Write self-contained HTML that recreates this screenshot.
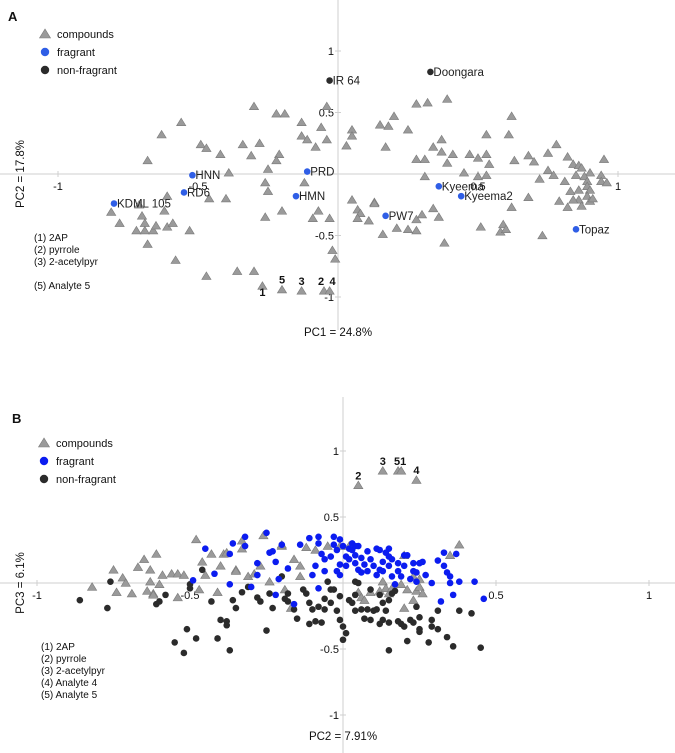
<!DOCTYPE html>
<html><head><meta charset="utf-8"><style>
html,body{margin:0;padding:0;background:#fff;}
svg{display:block;font-family:"Liberation Sans",Arial,sans-serif;}
</style></head><body>
<svg id="chart" width="675" height="753" viewBox="0 0 675 753" xmlns="http://www.w3.org/2000/svg">
<g id="panelA"></g>
<g id="panelB"></g>
</svg>
<script>
// ---------- Panel A data (PC1 vs PC2) ----------
const aCompounds = [[-0.30,0.55],[-0.22,0.49],[-0.19,0.49],[-0.04,0.55],[-0.13,0.42],[-0.06,0.38],[-0.56,0.42],[-0.63,0.32],[-0.49,0.24],[-0.47,0.21],[-0.34,0.24],[-0.28,0.25],[-0.21,0.16],[-0.22,0.11],[-0.31,0.15],[-0.42,0.16],[-0.68,0.11],[-0.13,0.31],[-0.11,0.28],[-0.08,0.22],[-0.04,0.28],[0.03,0.23],[0.05,0.36],[0.05,0.31],[0.15,0.40],[0.18,0.39],[0.20,0.47],[0.25,0.36],[0.28,0.57],[0.32,0.58],[0.39,0.61],[0.62,0.47],[0.53,0.32],[0.61,0.32],[0.37,0.28],[0.34,0.22],[0.37,0.18],[0.41,0.16],[0.47,0.16],[0.28,0.12],[0.31,0.12],[0.39,0.09],[0.50,0.13],[0.53,0.16],[0.54,0.08],[0.63,0.11],[0.68,0.15],[0.70,0.10],[0.75,0.17],[0.78,0.24],[0.82,0.14],[0.75,0.03],[0.77,-0.01],[0.84,0.08],[0.86,0.07],[0.87,0.05],[0.90,0.01],[0.94,-0.01],[0.95,0.12],[0.94,-0.06],[0.96,-0.07],[0.72,-0.04],[0.81,-0.06],[0.85,-0.01],[0.88,-0.02],[0.89,-0.06],[0.89,-0.10],[0.90,-0.13],[0.86,-0.13],[0.83,-0.14],[0.89,-0.18],[0.86,-0.21],[0.90,-0.22],[0.84,-0.21],[0.79,-0.22],[0.82,-0.27],[0.87,-0.26],[0.91,-0.20],[0.68,-0.19],[0.62,-0.27],[0.58,-0.47],[0.59,-0.41],[0.60,-0.45],[0.51,-0.43],[0.73,-0.50],[0.45,0.01],[0.50,-0.02],[0.53,-0.01],[0.31,-0.02],[0.17,0.22],[0.13,-0.23],[0.13,-0.24],[0.05,-0.21],[0.07,-0.29],[0.08,-0.32],[0.07,-0.36],[0.11,-0.38],[0.34,-0.28],[0.36,-0.35],[0.28,-0.37],[0.30,-0.33],[0.25,-0.45],[0.21,-0.44],[0.28,-0.46],[0.16,-0.49],[0.38,-0.56],[-0.39,0.01],[-0.25,0.04],[-0.26,-0.07],[-0.25,-0.14],[-0.12,-0.07],[-0.40,-0.20],[-0.46,-0.20],[-0.61,-0.18],[-0.62,-0.30],[-0.71,-0.25],[-0.70,-0.34],[-0.81,-0.31],[-0.78,-0.40],[-0.69,-0.40],[-0.72,-0.46],[-0.69,-0.46],[-0.66,-0.46],[-0.65,-0.42],[-0.61,-0.43],[-0.59,-0.40],[-0.53,-0.46],[-0.68,-0.57],[-0.58,-0.70],[-0.47,-0.83],[-0.36,-0.79],[-0.30,-0.79],[-0.02,-0.62],[-0.01,-0.69],[-0.07,-0.30],[-0.09,-0.36],[-0.03,-0.36],[-0.20,-0.30],[-0.26,-0.35]];
const aKeyCompounds = [[-0.27,-0.91],[-0.20,-0.94],[-0.13,-0.95],[-0.05,-0.95],[-0.03,-0.95]];
const aKeyLabels = ["1","5","3","2","4"];
const aFragrant = [[-0.11,0.02],[-0.52,-0.01],[-0.55,-0.15],[-0.80,-0.24],[-0.15,-0.18],[0.17,-0.34],[0.36,-0.10],[0.44,-0.18],[0.85,-0.45]];
const aFragrantNames = ["PRD","HNN","RD6","KDML 105","HMN","PW7","Kyeema","Kyeema2","Topaz"];
const aNonFragrant = [[-0.03,0.76],[0.33,0.83]];
const aNonFragrantNames = ["IR 64","Doongara"];
const aXTicks = [-1,-0.5,0.5,1];
const aYTicks = [1,0.5,-0.5,-1];

// ---------- Panel B data (PC2 vs PC3) ----------
const bCompounds = [[-0.82,-0.03],[-0.75,0.10],[-0.74,-0.07],[-0.72,0.04],[-0.71,0.00],[-0.69,-0.08],[-0.67,0.12],[-0.65,0.18],[-0.64,-0.06],[-0.63,0.01],[-0.63,0.10],[-0.62,-0.08],[-0.62,-0.09],[-0.61,0.22],[-0.60,-0.01],[-0.59,0.06],[-0.56,0.07],[-0.54,-0.11],[-0.54,0.07],[-0.52,0.06],[-0.48,0.33],[-0.47,-0.05],[-0.46,0.16],[-0.45,0.06],[-0.43,0.22],[-0.41,-0.07],[-0.40,0.13],[-0.39,0.22],[-0.38,0.23],[-0.35,0.10],[-0.35,0.09],[-0.33,0.32],[-0.33,0.26],[-0.31,0.05],[-0.29,0.07],[-0.27,0.13],[-0.26,0.36],[-0.24,0.01],[-0.20,0.28],[-0.20,0.29],[-0.19,-0.05],[-0.17,-0.19],[-0.16,0.18],[-0.14,0.13],[-0.14,0.05],[-0.12,0.27],[-0.09,0.25],[-0.05,0.28],[-0.01,0.28],[0.02,0.28],[0.05,-0.07],[0.06,-0.11],[0.07,-0.13],[0.09,-0.07],[0.12,-0.06],[0.13,0.01],[0.14,-0.04],[0.15,-0.08],[0.16,-0.04],[0.19,-0.01],[0.20,0.21],[0.20,-0.19],[0.21,-0.05],[0.23,-0.13],[0.24,-0.06],[0.25,-0.03],[0.26,-0.08],[0.35,0.21],[0.38,0.29],[0.23,0.05],[0.25,0.03]];
const bKeyCompounds = [[0.05,0.74],[0.13,0.85],[0.18,0.85],[0.19,0.85],[0.24,0.78]];
const bKeyLabels = ["2","3","5","1","4"];
const bFragrant = [[-0.49,0.02],[-0.45,0.26],[-0.42,0.07],[-0.37,-0.01],[-0.37,0.22],[-0.36,0.30],[-0.32,0.35],[-0.32,0.28],[-0.30,-0.03],[-0.28,0.15],[-0.28,0.06],[-0.25,0.38],[-0.24,0.23],[-0.23,0.24],[-0.22,0.16],[-0.21,0.03],[-0.22,-0.09],[-0.20,0.29],[-0.18,0.11],[-0.16,-0.16],[-0.14,0.29],[-0.11,0.34],[-0.10,0.06],[-0.09,0.13],[-0.08,-0.04],[-0.08,0.35],[-0.08,0.30],[-0.07,0.22],[-0.06,0.18],[-0.06,0.09],[-0.04,0.20],[-0.03,0.35],[-0.03,0.29],[-0.02,0.09],[-0.02,0.25],[-0.01,0.14],[-0.01,0.06],[0.00,0.28],[0.01,0.20],[0.01,0.13],[0.02,0.26],[0.02,0.18],[0.03,0.25],[0.03,0.30],[0.04,0.15],[0.04,0.21],[0.05,0.10],[0.05,0.28],[0.06,0.19],[0.06,0.08],[0.07,0.14],[0.08,0.24],[0.08,0.09],[0.09,0.18],[0.10,0.13],[0.11,0.26],[0.11,0.06],[0.12,0.25],[0.12,0.10],[0.13,0.16],[0.13,0.09],[0.14,0.23],[0.15,0.20],[0.15,0.13],[0.16,0.05],[0.16,0.18],[0.17,-0.01],[0.18,0.09],[0.18,0.15],[0.19,0.05],[0.20,0.21],[0.20,0.13],[0.21,0.21],[0.22,0.03],[0.23,0.15],[0.23,0.09],[0.24,0.01],[0.24,0.08],[0.25,0.15],[0.26,0.16],[0.27,0.06],[0.29,0.00],[0.31,0.17],[0.32,-0.14],[0.33,0.23],[0.33,0.13],[0.34,0.08],[0.35,0.00],[0.35,0.05],[0.36,-0.09],[0.37,0.22],[0.38,0.01],[0.43,0.01],[0.46,-0.12],[0.04,0.28],[-0.01,0.33],[0.15,0.26]];
const bNonFragrant = [[-0.86,-0.13],[-0.77,-0.19],[-0.76,0.01],[-0.61,-0.16],[-0.60,-0.14],[-0.58,-0.09],[-0.55,-0.45],[-0.52,-0.53],[-0.51,-0.35],[-0.48,-0.42],[-0.50,-0.01],[-0.50,-0.04],[-0.46,0.10],[-0.43,-0.14],[-0.40,-0.28],[-0.38,-0.29],[-0.38,-0.32],[-0.37,-0.51],[-0.41,-0.42],[-0.36,-0.13],[-0.35,-0.19],[-0.33,-0.07],[-0.31,-0.03],[-0.28,-0.11],[-0.27,-0.14],[-0.25,-0.36],[-0.24,-0.08],[-0.23,-0.19],[-0.20,0.05],[-0.19,-0.12],[-0.18,-0.08],[-0.18,-0.14],[-0.16,-0.20],[-0.15,-0.27],[-0.13,-0.05],[-0.12,-0.08],[-0.11,-0.31],[-0.11,-0.15],[-0.10,-0.20],[-0.09,-0.29],[-0.08,-0.18],[-0.07,-0.30],[-0.06,-0.20],[-0.06,-0.12],[-0.05,0.01],[-0.04,-0.05],[-0.04,-0.15],[-0.02,-0.21],[-0.01,-0.28],[0.00,-0.33],[0.01,-0.38],[0.00,-0.43],[0.02,-0.13],[0.03,-0.15],[0.04,-0.21],[0.04,0.01],[0.05,0.00],[0.06,-0.20],[0.07,-0.27],[0.08,-0.20],[0.09,-0.28],[0.10,-0.21],[0.11,-0.20],[0.12,-0.31],[0.13,-0.15],[0.13,-0.28],[0.14,-0.21],[0.15,-0.51],[0.15,-0.13],[0.15,-0.30],[0.16,-0.08],[0.17,-0.06],[0.18,-0.29],[0.19,-0.31],[0.20,-0.33],[0.21,-0.44],[0.22,-0.28],[0.23,-0.30],[0.24,-0.18],[0.25,-0.26],[0.25,-0.35],[0.25,-0.37],[0.28,-0.45],[0.29,-0.33],[0.29,-0.28],[0.31,-0.35],[0.31,-0.21],[0.34,-0.41],[0.36,-0.48],[0.38,-0.21],[0.42,-0.23],[0.45,-0.49],[-0.03,-0.05],[-0.01,-0.10],[0.04,-0.09],[0.09,-0.05],[0.12,-0.09]];
const bXTicks = [-1,-0.5,0.5,1];
const bYTicks = [1,0.5,-0.5,-1];

const NS = "http://www.w3.org/2000/svg";
function mk(parent, tag, attrs, text){
  const e = document.createElementNS(NS, tag);
  for (const k in attrs) e.setAttribute(k, attrs[k]);
  if (text !== undefined) e.textContent = text;
  parent.appendChild(e);
  return e;
}
function tri(g, cx, cy, s){
  return mk(g, "polygon", {points:`${cx},${cy-s} ${cx-s*1.1},${cy+s*0.8} ${cx+s*1.1},${cy+s*0.8}`, fill:"#9a9a9a", stroke:"#7a7a7a", "stroke-width":"0.6"});
}

function panel(g, cfg){
  const X = v => cfg.ox + v*cfg.ux;
  const Y = v => cfg.oy - v*cfg.uy;
  // axes
  const ax = mk(g,"line",{x1:0,y1:cfg.oy,x2:675,y2:cfg.oy,stroke:"#cfcfcf","stroke-width":"1"});
  
  
  const ay = mk(g,"line",{x1:cfg.ox,y1:cfg.vy1,x2:cfg.ox,y2:cfg.vy2,stroke:"#cfcfcf","stroke-width":"1"});
  
  
  cfg.xt.forEach(v=>{
    mk(g,"line",{x1:X(v),y1:cfg.oy-3,x2:X(v),y2:cfg.oy+3,stroke:"#cfcfcf"});
    const t = mk(g,"text",{x:X(v),y:cfg.oy+16,"font-size":"11","text-anchor":"middle",fill:"#111"}, String(v));
    
    
  });
  cfg.yt.forEach(v=>{
    mk(g,"line",{x1:cfg.ox-3,y1:Y(v),x2:cfg.ox+3,y2:Y(v),stroke:"#cfcfcf"});
    const t = mk(g,"text",{x:cfg.ox-4,y:Y(v)+4,"font-size":"11","text-anchor":"end",fill:"#111"}, String(v));
    
    
  });
  // compounds
  cfg.comp.forEach(p=>{
    const e = tri(g, X(p[0]), Y(p[1]), 4.2);
    
    
  });
  cfg.key.forEach((p,i)=>{
    const e = tri(g, X(p[0]), Y(p[1]), 4.2);
    
    
  });
  cfg.nonf.forEach((p,i)=>{
    const e = mk(g,"circle",{cx:X(p[0]),cy:Y(p[1]),r:cfg.r,fill:"#2b2b2b"});
    
    
    if (cfg.nonfN){
      const t = mk(g,"text",{x:X(p[0])+3,y:Y(p[1])+4,"font-size":"11.5",fill:"#222"}, cfg.nonfN[i]);
      
      
    }
  });
  cfg.frag.forEach((p,i)=>{
    const e = mk(g,"circle",{cx:X(p[0]),cy:Y(p[1]),r:cfg.r,fill:cfg.blue});
    
    
    if (cfg.fragN){
      const t = mk(g,"text",{x:X(p[0])+3,y:Y(p[1])+4,"font-size":"11.5",fill:"#222"}, cfg.fragN[i]);
      
      
    }
  });
  return {X,Y};
}

const gA = document.getElementById("panelA");
const A = panel(gA,{ox:338,oy:174,ux:280,uy:123,vy1:0,vy2:330,xt:aXTicks,yt:aYTicks,comp:aCompounds,key:aKeyCompounds,frag:aFragrant,fragN:aFragrantNames,nonf:aNonFragrant,nonfN:aNonFragrantNames,r:3.3,blue:"#2f5ee6"});
aKeyCompounds.forEach((p,i)=>{
  const below = aKeyLabels[i]==="1";
  const dx = aKeyLabels[i]==="2" ? -3 : (aKeyLabels[i]==="4" ? 3 : 0);
  const t = mk(gA,"text",{x:A.X(p[0])+dx,y:below?A.Y(p[1])+10:A.Y(p[1])-6,"font-size":"11","font-weight":"bold","text-anchor":"middle",fill:"#111"}, aKeyLabels[i]);
  
  
});

const gB = document.getElementById("panelB");
const B = panel(gB,{ox:343,oy:583,ux:306,uy:132,vy1:397,vy2:753,xt:bXTicks,yt:bYTicks,comp:bCompounds,key:bKeyCompounds,frag:bFragrant,nonf:bNonFragrant,r:3.3,blue:"#0b1cf0"});
bKeyCompounds.forEach((p,i)=>{
  const dx = bKeyLabels[i]==="5" ? -1 : (bKeyLabels[i]==="1" ? 2 : 0);
  const t = mk(gB,"text",{x:B.X(p[0])+dx,y:B.Y(p[1])-6,"font-size":"11","font-weight":"bold","text-anchor":"middle",fill:"#111"}, bKeyLabels[i]);
  
  
});

// static text: panel letters, axis titles, legends, notes
function staticText(g, x, y, s, attrs, name){
  const t = mk(g,"text",Object.assign({x:x,y:y,"font-size":"11",fill:"#111"},attrs||{}), s);
  
  
  return t;
}
staticText(gA,8,21,"A",{"font-size":"13","font-weight":"bold"},"panel-letter-a");
staticText(gB,12,423,"B",{"font-size":"13","font-weight":"bold"},"panel-letter-b");
staticText(gA,338,336,"PC1 = 24.8%",{"font-size":"11.5","text-anchor":"middle"},"x-axis-title");
staticText(gA,0,0,"PC2 = 17.8%",{"font-size":"11.5","text-anchor":"middle",transform:"translate(24,174) rotate(-90)"},"y-axis-title");
staticText(gB,343,740,"PC2 = 7.91%",{"font-size":"11.5","text-anchor":"middle"},"x-axis-title");
staticText(gB,0,0,"PC3 = 6.1%",{"font-size":"11.5","text-anchor":"middle",transform:"translate(24,583) rotate(-90)"},"y-axis-title");

function legend(g, x, y){
  const t0 = tri(g, x, y, 5);
  
  
  staticText(g,x+12,y+4,"compounds",{},"legend-compounds");
  const c1 = mk(g,"circle",{cx:x,cy:y+18,r:4.2,fill:g.id==="panelA"?"#2f5ee6":"#0b1cf0"});
  
  
  staticText(g,x+12,y+22,"fragrant",{},"legend-fragrant");
  const c2 = mk(g,"circle",{cx:x,cy:y+36,r:4.2,fill:"#2b2b2b"});
  
  
  staticText(g,x+12,y+40,"non-fragrant",{},"legend-non-fragrant");
}
legend(gA,45,34);
legend(gB,44,443);

const notesA = [["(1) 2AP",241],["(2)  pyrrole",253],["(3)  2-acetylpyr",265],["(5) Analyte 5",289]];
notesA.forEach(n=>staticText(gA,34,n[1],n[0],{"font-size":"10"},"compound-key-note"));
const notesB = [["(1) 2AP",650],["(2)  pyrrole",662],["(3)  2-acetylpyr",674],["(4) Analyte 4",686],["(5) Analyte 5",698]];
notesB.forEach(n=>staticText(gB,41,n[1],n[0],{"font-size":"10"},"compound-key-note"));
</script>
</body></html>
